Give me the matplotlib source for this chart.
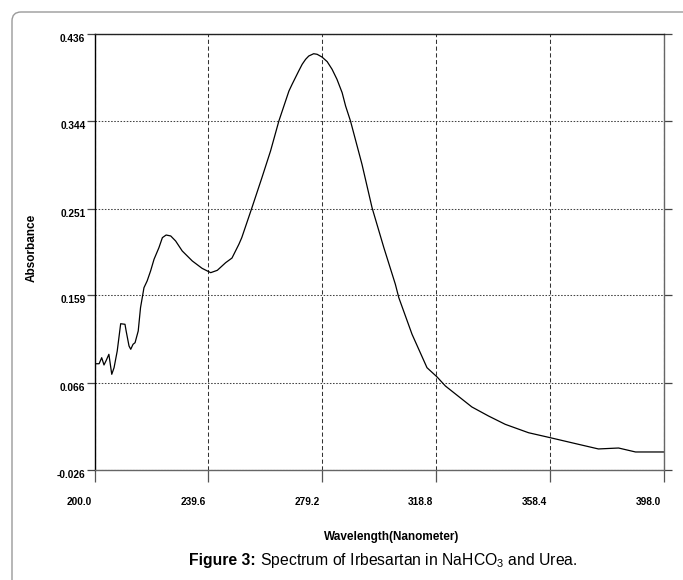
import matplotlib
matplotlib.use("Agg")
import matplotlib.pyplot as plt
from matplotlib.patches import FancyBboxPatch
from matplotlib.transforms import IdentityTransform, ScaledTranslation, Affine2D

plt.rcParams['font.family'] = ['Liberation Sans', 'DejaVu Sans']
plt.rcParams['mathtext.fontset'] = 'custom'
plt.rcParams['mathtext.rm'] = 'Liberation Sans'
plt.rcParams['mathtext.bf'] = 'Liberation Sans:bold'
plt.rcParams['mathtext.it'] = 'Liberation Sans:italic'

wavelength = [200.0, 201.6, 202.5, 203.3, 204.1, 205.0, 206.0, 206.8, 207.9, 209.1,
              210.6, 211.0, 212.0, 212.6, 213.4, 214.1, 215.2, 216.0, 217.2, 218.3,
              219.5, 220.7, 222.4, 223.6, 224.9, 226.5, 228.2, 230.5, 234.0, 237.4,
              240.4, 242.7, 245.6, 247.8, 250.2, 251.2, 254.7, 258.2, 261.2, 264.1,
              267.6, 268.7, 271.0, 272.2, 273.4, 274.5, 276.2, 277.4, 279.1, 280.9,
              282.6, 284.3, 286.1, 287.3, 289.0, 293.0, 296.5,
              300.6, 304.6, 305.8, 310.4, 315.6, 319.1, 322.0, 331.2, 337.0, 342.8,
              350.9, 358.5, 368.3, 375.2, 382.2, 388.1, 398.0]
absorbance = [0.0866, 0.0866, 0.0930, 0.0853, 0.0903, 0.0966, 0.0754, 0.0824, 0.1001, 0.1290,
              0.1284, 0.1213, 0.1054, 0.1019, 0.1072, 0.1089, 0.1213, 0.1460, 0.1672, 0.1743,
              0.1849, 0.1973, 0.2096, 0.2202, 0.2230, 0.2220, 0.2167, 0.2061, 0.1955, 0.1877,
              0.1831, 0.1856, 0.1937, 0.1986, 0.2132, 0.2202, 0.2516, 0.2837, 0.3120, 0.3438,
              0.3756, 0.3827, 0.3968, 0.4039, 0.4092, 0.4127, 0.4151, 0.4145, 0.4116, 0.4067,
              0.3986, 0.3880, 0.3738, 0.3597, 0.3438, 0.2979, 0.2519,
              0.2096, 0.1708, 0.1566, 0.1178, 0.0824, 0.0726, 0.0630, 0.0408, 0.0312, 0.0224,
              0.0135, 0.0082, 0.0012, -0.0037, -0.0027, -0.0069, -0.0069]

x_ticks = [200.0, 239.6, 279.2, 318.8, 358.4, 398.0]
x_tick_labels = ["200.0", "239.6", "279.2", "318.8", "358.4", "398.0"]
y_ticks = [-0.026, 0.066, 0.159, 0.251, 0.344, 0.436]
y_tick_labels = ["-0.026", "0.066", "0.159", "0.251", "0.344", "0.436"]

caption_bold = "Figure 3:"
caption_rest = " Spectrum of Irbesartan in NaHCO$_3$ and Urea."

fig = plt.figure(figsize=(6.83, 5.80), dpi=100)
ax = fig.add_axes([94.5 / 683, 1 - 470 / 580, (664 - 94.5) / 683, (470 - 34) / 580])

ax.plot(wavelength, absorbance, color='black', linewidth=0.9)

ax.set_xlim(200.0, 398.0)
ax.set_ylim(-0.026, 0.436)
ax.set_xticks(x_ticks)
ax.set_xticklabels(x_tick_labels, fontsize=7.3, fontweight='bold')
ax.set_yticks(y_ticks)
ax.set_yticklabels(y_tick_labels, fontsize=7.3, fontweight='bold')

ax.xaxis.grid(True, linestyle=(0, (4, 2.5)), color='#333333', linewidth=0.75)
ax.yaxis.grid(True, linestyle=(0, (1.5, 1.5)), color='#444444', linewidth=0.75)
ax.set_axisbelow(True)

ax.tick_params(axis='y', left=True, right=True, direction='out', length=6,
               pad=0.5, color='#444444', width=0.9)
ax.tick_params(axis='x', bottom=True, top=False, direction='out', length=8.5,
               pad=11, color='#555555', width=0.9)

for lab in ax.get_yticklabels():
    lab.set_verticalalignment('top')
for lab in ax.get_xticklabels():
    lab.set_transform(lab.get_transform() + ScaledTranslation(-15.5 / 100, 0, fig.dpi_scale_trans))

ax.spines['left'].set_color('black')
ax.spines['top'].set_color('#222222')
ax.spines['bottom'].set_color('#666666')
ax.spines['right'].set_color('#666666')
for s in ax.spines.values():
    s.set_linewidth(1.0)

fig.text(32 / 683, 1 - 248 / 580, "Absorbance", rotation=90, ha='center', va='center',
         fontsize=8.5, fontweight='bold')
fig.text(392 / 683, 1 - 537 / 580, "Wavelength(Nanometer)", ha='center', va='center',
         fontsize=8.5, fontweight='bold')

# caption: bold part + regular part, laid out side by side
cap_y = 1 - 565 / 580
t_bold = fig.text(0, cap_y, caption_bold, ha='left', va='baseline',
                  fontsize=11.3, fontweight='bold')
t_rest = fig.text(0, cap_y, caption_rest, ha='left', va='baseline', fontsize=11.3)
fig.canvas.draw()
r = fig.canvas.get_renderer()
w_bold = t_bold.get_window_extent(r).width
w_rest = t_rest.get_window_extent(r).width
right_px = 577
x0 = right_px - w_bold - w_rest
t_bold.set_x(x0 / 683)
t_rest.set_x((x0 + w_bold) / 683)

border = FancyBboxPatch((12, -30), 720, 580 - 12 + 30,
                        boxstyle="round,pad=0,rounding_size=9",
                        transform=IdentityTransform(), facecolor='none',
                        edgecolor='#9a9a9a', linewidth=1.0, clip_on=False)
fig.add_artist(border)

fig.savefig("out.png", dpi=100)
